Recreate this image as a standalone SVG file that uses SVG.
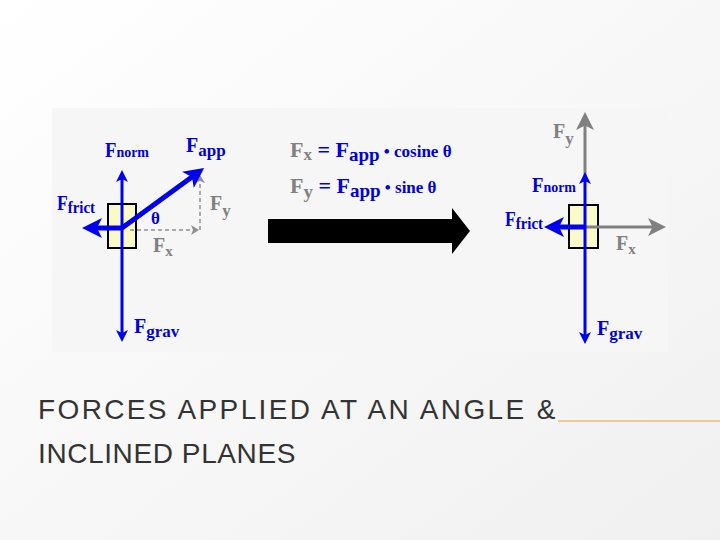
<svg xmlns="http://www.w3.org/2000/svg" width="720" height="540" viewBox="0 0 720 540">
<defs>
<marker id="ab" markerWidth="4" markerHeight="4" refX="2" refY="2" orient="auto" markerUnits="strokeWidth"><path d="M0,0L4,2L0,4L1,2Z" fill="#0000ee"/></marker>
<marker id="ag" markerWidth="6" markerHeight="6" refX="4" refY="3" orient="auto" markerUnits="strokeWidth"><path d="M0,0L6,3L0,6L1.5,3Z" fill="#808080"/></marker>
<marker id="agd" markerWidth="10" markerHeight="10" refX="7" refY="5" orient="auto" markerUnits="userSpaceOnUse"><path d="M0,0L8,5L0,10L2,5Z" fill="#909090"/></marker>
<linearGradient id="bg" x1="0" y1="0" x2="1" y2="1"><stop offset="0" stop-color="#ffffff"/><stop offset="1" stop-color="#f0f0f0"/></linearGradient>
</defs>
<style>
.b{fill:#0000dd;font-family:"Liberation Serif",serif;font-weight:bold}
.g{fill:#808080;font-family:"Liberation Serif",serif;font-weight:bold}
.vb{stroke:#0000ee;stroke-width:3;fill:none}
.box{fill:#fafac8;stroke:#000;stroke-width:2}
.t{font-family:"Liberation Sans",Arial,sans-serif;font-size:28px;fill:#333;letter-spacing:0.6px}
</style>
<rect width="720" height="540" fill="url(#bg)"/>
<rect x="52" y="108" width="616" height="244" fill="#f6f6f6"/>
<line x1="558" y1="421" x2="720" y2="421" stroke="#e8a040" stroke-width="1.2"/>
<text class="t" x="38" y="419" textLength="518" lengthAdjust="spacing">FORCES APPLIED AT AN ANGLE &amp;</text>
<text class="t" x="38" y="463">INCLINED PLANES</text>

<g id="left-block">
<rect class="box" x="108" y="204" width="28" height="44"/>
</g>
<g id="right-block-box">
<rect class="box" x="569" y="205" width="29" height="43"/>
</g>

<g id="connectors">
<line class="vb" x1="122" y1="228" x2="122" y2="176" marker-end="url(#ab)"/>
<line class="vb" x1="122" y1="228" x2="122" y2="336" marker-end="url(#ab)"/>
<line x1="130" y1="230" x2="198" y2="230" stroke="#909090" stroke-width="1.5" stroke-dasharray="4,3" marker-end="url(#agd)"/>
<line x1="200" y1="230" x2="200" y2="176" stroke="#909090" stroke-width="1.5" stroke-dasharray="4,3" marker-end="url(#agd)"/>
<line x1="585" y1="178" x2="585" y2="118" stroke="#808080" stroke-width="3" marker-end="url(#ag)"/>
<line x1="585" y1="227" x2="660" y2="227" stroke="#808080" stroke-width="3" marker-end="url(#ag)"/>
<line class="vb" x1="585" y1="227" x2="585" y2="178" marker-end="url(#ab)"/>
<line class="vb" x1="585" y1="227" x2="585" y2="338" marker-end="url(#ab)"/>
<line x1="122" y1="228" x2="92" y2="228" stroke="#0000ee" stroke-width="5" marker-end="url(#ab)"/>
<line x1="122" y1="228" x2="196" y2="174" stroke="#0000ee" stroke-width="5" marker-end="url(#ab)"/>
<line x1="585" y1="227" x2="554" y2="227" stroke="#0000ee" stroke-width="5" marker-end="url(#ab)"/>
<path d="M268,219H452V208L470,231L452,254V243H268Z" fill="#000"/>
</g>

<g id="left-labels">
<text class="b" font-size="20" x="105" y="157" textLength="44" lengthAdjust="spacingAndGlyphs">F<tspan font-size="15">norm</tspan></text>
<text class="b" font-size="20" x="186" y="152">F<tspan font-size="17" dy="4">app</tspan></text>
<text class="b" font-size="20" x="57" y="210" textLength="38" lengthAdjust="spacingAndGlyphs">F<tspan font-size="17" dy="3">frict</tspan></text>
<text class="g" font-size="20" x="210" y="210">F<tspan font-size="17" dy="6">y</tspan></text>
<text class="b" font-size="17" x="151" y="224">θ</text>
<text class="g" font-size="20" x="153" y="252">F<tspan font-size="15" dy="4">x</tspan></text>
<text class="b" font-size="20" x="134" y="333">F<tspan font-size="17" dy="4">grav</tspan></text>
</g>

<g id="formulas">
<text class="b" font-size="22" x="290" y="157"><tspan class="g">F<tspan font-size="17" dy="3">x</tspan></tspan><tspan dy="-3"> = F</tspan><tspan font-size="19" dy="4">app</tspan><tspan font-size="17" dy="-4"> • cosine θ</tspan></text>
<text class="b" font-size="22" x="290" y="193"><tspan class="g">F<tspan font-size="19" dy="5">y</tspan></tspan><tspan dy="-5"> = F</tspan><tspan font-size="19" dy="4">app</tspan><tspan font-size="17" dy="-4"> • sine θ</tspan></text>
</g>

<g id="right-labels">
<text class="g" font-size="20" x="553" y="138">F<tspan font-size="17" dy="6">y</tspan></text>
<text class="b" font-size="20" x="532" y="192" textLength="44" lengthAdjust="spacingAndGlyphs">F<tspan font-size="15">norm</tspan></text>
<text class="b" font-size="20" x="505" y="226" textLength="38" lengthAdjust="spacingAndGlyphs">F<tspan font-size="17" dy="3">frict</tspan></text>
<text class="g" font-size="20" x="616" y="250">F<tspan font-size="15" dy="4">x</tspan></text>
<text class="b" font-size="20" x="597" y="335">F<tspan font-size="17" dy="4">grav</tspan></text>
</g>
</svg>
